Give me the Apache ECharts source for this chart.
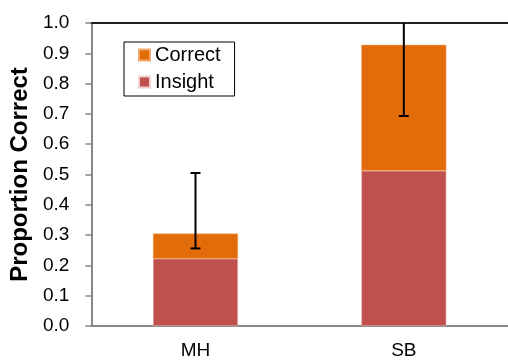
<!DOCTYPE html>
<html><head><meta charset="utf-8">
<script src="https://cdn.jsdelivr.net/npm/echarts@6/dist/echarts.min.js"></script>
<style>html,body{margin:0;padding:0;background:#fff}#c{width:508px;height:360px}</style>
</head><body><div id="c"></div>
<script>
const categories = ['MH', 'SB'];
const insight = [0.222, 0.512];
const correctExtra = [0.083, 0.416];
const errLow = [0.256, 0.693];
const errHigh = [0.505, 1.16];
const yTicks = ['0.0','0.1','0.2','0.3','0.4','0.5','0.6','0.7','0.8','0.9','1.0'];

const FONT = '"Liberation Sans", Arial, sans-serif';
const chart = echarts.init(document.getElementById('c'));
const errData = categories.map((c, i) => [i, errLow[i], errHigh[i]]);
chart.setOption({
  animation: false,
  backgroundColor: '#fff',
  grid: { left: 90, top: 23, width: 424, height: 305, containLabel: false },
  legend: {
    data: ['Correct', 'Insight'],
    orient: 'vertical',
    left: 124, top: 42,
    icon: 'rect', itemWidth: 11, itemHeight: 11, itemGap: 7,
    padding: [3, 14, 4, 14],
    borderColor: '#000', borderWidth: 1,
    textStyle: { fontFamily: FONT, fontSize: 20, color: '#000', lineHeight: 20 }
  },
  xAxis: [{
    type: 'category', data: categories,
    axisLine: { lineStyle: { color: '#888', width: 2 } },
    axisTick: { show: false },
    axisLabel: { fontFamily: FONT, fontSize: 19, color: '#000', margin: 15 }
  }, {
    type: 'category', data: categories, position: 'top',
    axisLine: { show: true, lineStyle: { color: '#222', width: 2 } },
    axisTick: { show: false }, axisLabel: { show: false }
  }],
  yAxis: {
    type: 'value', min: 0, max: 1, interval: 0.1,
    name: 'Proportion Correct', nameLocation: 'middle', nameGap: 54, nameRotate: 90,
    nameTextStyle: { fontFamily: FONT, fontSize: 24, fontWeight: 'bold', color: '#000' },
    axisLine: { show: true, lineStyle: { color: '#888', width: 2 } },
    axisTick: { show: true, length: 6, lineStyle: { color: '#888', width: 1.5 } },
    splitLine: { show: false },
    axisLabel: { fontFamily: FONT, fontSize: 19, color: '#000', margin: 22,
      formatter: (v) => yTicks[Math.round(v * 10)] }
  },
  series: [{
    name: 'Insight', type: 'bar', stack: 'a', data: insight, barWidth: 85,
    itemStyle: { color: '#C0504D', borderColor: '#F2D0CF', borderWidth: 0.5 }
  }, {
    name: 'Correct', type: 'bar', stack: 'a', data: correctExtra, barWidth: 85,
    itemStyle: { color: '#E36C0A', borderColor: '#F3A66A', borderWidth: 0.5 }
  }, {
    type: 'custom', name: 'err', data: errData, clip: true, z: 10,
    renderItem: function (params, api) {
      const x = api.value(0);
      const lo = api.coord([x, api.value(1)]);
      const hi = api.coord([x, api.value(2)]);
      const hw = 5;
      const st = { stroke: '#000', lineWidth: 2 };
      return { type: 'group', children: [
        { type: 'line', shape: { x1: lo[0], y1: lo[1], x2: hi[0], y2: hi[1] }, style: st },
        { type: 'line', shape: { x1: lo[0] - hw, y1: lo[1], x2: lo[0] + hw, y2: lo[1] }, style: st },
        { type: 'line', shape: { x1: hi[0] - hw, y1: hi[1], x2: hi[0] + hw, y2: hi[1] }, style: st }
      ]};
    }
  }]
});
</script></body></html>
